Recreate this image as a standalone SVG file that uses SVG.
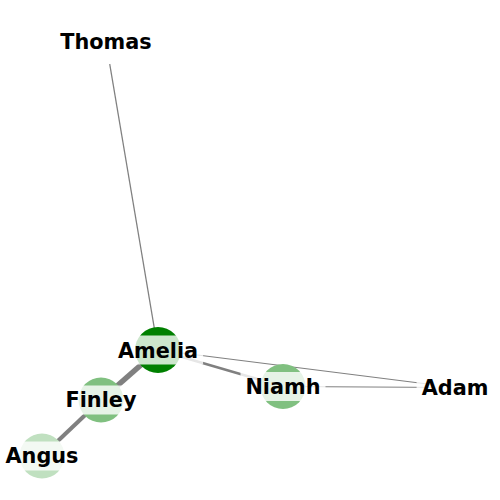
<svg xmlns="http://www.w3.org/2000/svg" width="500" height="500" viewBox="0 0 500 500">
<style>
.edge{stroke:#808080;fill:none;stroke-linecap:butt}
.node{stroke:none}
.box{fill:#ffffff;fill-opacity:0.8;stroke:none}
.lbl{font-family:"DejaVu Sans",sans-serif;font-weight:bold;font-size:20.8px;fill:#000;text-anchor:middle}
</style>
<rect width="500" height="500" fill="#ffffff"/>
<g id="edges">
<line class="edge" x1="106" y1="42" x2="158" y2="350" stroke-width="1.3"/>
<line class="edge" x1="158" y1="350" x2="101" y2="400" stroke-width="5.5"/>
<line class="edge" x1="101" y1="400" x2="42" y2="456" stroke-width="4"/>
<line class="edge" x1="158" y1="350" x2="283" y2="386.5" stroke-width="2.5"/>
<line class="edge" x1="158" y1="350" x2="455" y2="387.5" stroke-width="1.2"/>
<line class="edge" x1="283" y1="386.5" x2="455" y2="387.5" stroke-width="1.2"/>
</g>
<g id="node-thomas">
<circle class="node" cx="106" cy="42" r="22.5" fill="#ffffff"/>
<rect class="box" x="55.3" y="27.5" width="101.4" height="29"/>
<text class="lbl" x="106" y="49">Thomas</text>
</g>
<g id="node-amelia">
<circle class="node" cx="158" cy="350" r="23" fill="#008000"/>
<rect class="box" x="112.9" y="335.5" width="90.2" height="29"/>
<text class="lbl" x="158" y="357.5">Amelia</text>
</g>
<g id="node-finley">
<circle class="node" cx="101" cy="400" r="22.5" fill="#80c080"/>
<rect class="box" x="61.6" y="385.5" width="78.8" height="29"/>
<text class="lbl" x="101" y="407">Finley</text>
</g>
<g id="node-angus">
<circle class="node" cx="42" cy="456" r="22.5" fill="#c0e0c0"/>
<rect class="box" x="0.5" y="441.5" width="83" height="29"/>
<text class="lbl" x="42" y="463">Angus</text>
</g>
<g id="node-niamh">
<circle class="node" cx="283" cy="386.5" r="22.5" fill="#80c080"/>
<rect class="box" x="240.5" y="372" width="85" height="29"/>
<text class="lbl" x="283" y="393.5">Niamh</text>
</g>
<g id="node-adam">
<circle class="node" cx="455" cy="387.5" r="22.5" fill="#ffffff"/>
<rect class="box" x="416.6" y="373" width="76.8" height="29"/>
<text class="lbl" x="455" y="394.5">Adam</text>
</g>
</svg>
